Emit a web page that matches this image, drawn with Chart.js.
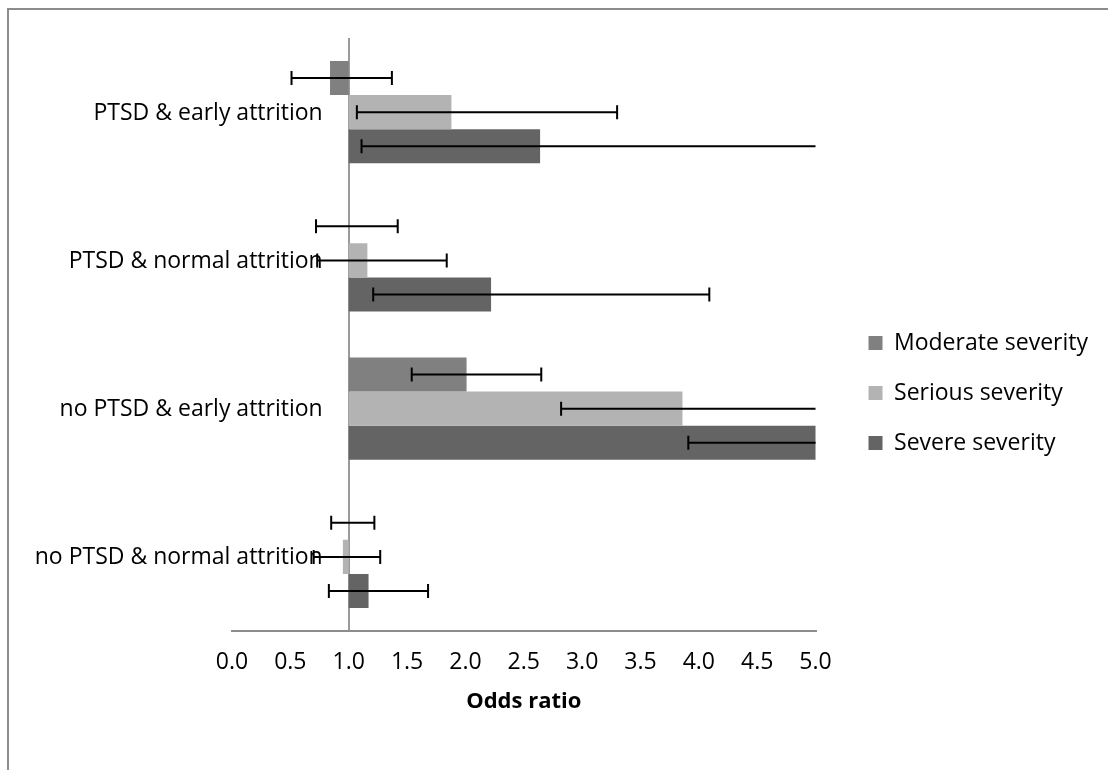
<!DOCTYPE html>
<html lang="en">
<head>
    <meta charset="UTF-8">
    <title>Odds ratio by severity</title>
    <script src="https://cdn.jsdelivr.net/npm/chart.js"></script>
    <style>
        body { margin: 0; background: #fff; }
        #frame { position: absolute; left: 7px; top: 8px; right: 0; bottom: 0;
                 border-top: 2px solid #8c8c8c; border-left: 2px solid #8c8c8c; }
        #box { position: absolute; left: 0; top: 0; width: 1108px; height: 770px; }
    </style>
</head>
<body>
    <div id="frame"></div>
    <div id="box"><canvas id="chartCanvas"></canvas></div>

    <script>
        var categories = ['PTSD & early attrition', 'PTSD & normal attrition',
                          'no PTSD & early attrition', 'no PTSD & normal attrition'];
        var seriesNames = ['Moderate severity', 'Serious severity', 'Severe severity'];
        var xTicks = [0, 0.5, 1, 1.5, 2, 2.5, 3, 3.5, 4, 4.5, 5];

        // odds ratios (bars start at 1.0)
        var moderate = [0.84, 1.0, 2.01, 1.0];
        var serious  = [1.88, 1.16, 3.86, 0.95];
        var severe   = [2.64, 2.22, 5.2, 1.17];

        // 95% CI
        var moderateLow  = [0.51, 0.72, 1.54, 0.85];
        var moderateHigh = [1.37, 1.42, 2.65, 1.22];
        var seriousLow   = [1.07, 0.73, 2.82, 0.70];
        var seriousHigh  = [3.30, 1.84, 5.6, 1.27];
        var severeLow    = [1.11, 1.21, 3.91, 0.83];
        var severeHigh   = [5.5, 4.09, 6.5, 1.68];

        var colors = ['#808080', '#b3b3b3', '#646464'];
        var values = [moderate, serious, severe];
        var lows = [moderateLow, seriousLow, severeLow];
        var highs = [moderateHigh, seriousHigh, severeHigh];
        var FONT = 'Open Sans';
        var SIZE = 23;

        var errorBars = {
            id: 'errorBars',
            afterDatasetsDraw: function (chart) {
                var ctx = chart.ctx, area = chart.chartArea, xs = chart.scales.x;
                ctx.save();
                ctx.strokeStyle = '#000';
                ctx.lineWidth = 2;
                for (var i = 0; i < values.length; i++) {
                    var meta = chart.getDatasetMeta(i);
                    meta.data.forEach(function (bar, j) {
                        var lo = lows[i][j], hi = highs[i][j];
                        var x1 = Math.max(xs.getPixelForValue(lo), area.left);
                        var x2 = Math.min(xs.getPixelForValue(hi), area.right);
                        var y = bar.y;
                        ctx.beginPath();
                        ctx.moveTo(x1, y); ctx.lineTo(x2, y);
                        if (lo >= xs.min) { ctx.moveTo(x1, y - 7); ctx.lineTo(x1, y + 7); }
                        if (hi <= xs.max) { ctx.moveTo(x2, y - 7); ctx.lineTo(x2, y + 7); }
                        ctx.stroke();
                    });
                }
                ctx.restore();
            }
        };

        // category names sit next to the axis crossing at 1.0, like the original
        var categoryLabels = {
            id: 'categoryLabels',
            afterDraw: function (chart) {
                var ctx = chart.ctx, ys = chart.scales.y, xs = chart.scales.x;
                var xr = xs.getPixelForValue(1) - 26;
                ctx.save();
                ctx.font = SIZE + 'px "' + FONT + '"';
                ctx.fillStyle = '#000';
                ctx.textAlign = 'right';
                ctx.textBaseline = 'middle';
                categories.forEach(function (c, i) {
                    ctx.fillText(c, xr, ys.getPixelForValue(i) + 1);
                });
                ctx.restore();
            }
        };

        function draw() {
            Chart.defaults.font.family = FONT;
            Chart.defaults.font.size = SIZE;
            Chart.defaults.color = '#000';

            new Chart(document.getElementById('chartCanvas'), {
                type: 'bar',
                data: {
                    labels: categories,
                    datasets: seriesNames.map(function (name, i) {
                        return {
                            label: name,
                            data: values[i].map(function (v) { return [1, v]; }),
                            backgroundColor: colors[i],
                            borderWidth: 0,
                            categoryPercentage: 0.69,
                            barPercentage: 1.0
                        };
                    })
                },
                options: {
                    indexAxis: 'y',
                    responsive: true,
                    maintainAspectRatio: false,
                    animation: false,
                    layout: { padding: { top: 38, bottom: 22, right: 10 } },
                    scales: {
                        x: {
                            min: 0, max: 5,
                            afterBuildTicks: function (s) { s.ticks = xTicks.map(function (v) { return { value: v }; }); },
                            afterFit: function (s) { s.height = 117; },
                            ticks: { padding: 18, callback: function (v) { return v.toFixed(1); } },
                            grid: {
                                drawTicks: false,
                                lineWidth: 2,
                                color: function (c) { return c.tick && c.tick.value === 1 ? '#9a9a9a' : 'rgba(0,0,0,0)'; }
                            },
                            border: { display: true, color: '#8c8c8c', width: 2 },
                            title: { display: true, text: 'Odds ratio', font: { weight: 'bold', size: 22 },
                                     padding: { top: 0, bottom: 33 } }
                        },
                        y: {
                            position: 'left',
                            grid: { display: false },
                            border: { display: false },
                            ticks: { display: false },
                            afterFit: function (s) { s.width = 232; }
                        },
                        yR: {
                            type: 'category',
                            position: 'right',
                            grid: { display: false },
                            border: { display: false },
                            ticks: { display: false },
                            afterFit: function (s) { s.width = 26; }
                        }
                    },
                    plugins: {
                        legend: {
                            position: 'right',
                            maxWidth: 400,
                            labels: { boxWidth: 14, boxHeight: 14, padding: 27, font: { size: SIZE } }
                        },
                        tooltip: { enabled: false }
                    }
                },
                plugins: [errorBars, categoryLabels]
            });
        }

        document.fonts.load(SIZE + 'px "' + FONT + '"').then(draw, draw);
    </script>
</body>
</html>
